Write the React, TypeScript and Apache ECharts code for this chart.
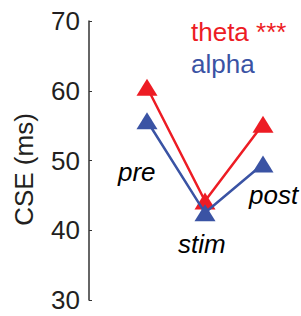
import React, { useEffect, useRef } from "react";
import * as echarts from "echarts";

const conditions = ["pre", "stim", "post"];
const conditionX = [1, 2, 3];
const thetaValues = [60.5, 44.2, 55.2];
const alphaValues = [55.7, 42.5, 49.5];
const yTicks = [30, 40, 50, 60, 70];

const RED = "#ED1C24";
const BLUE = "#3A53A4";
const FONT = "'Liberation Sans', Arial, Helvetica, sans-serif";

export default function App() {
  const ref = useRef<HTMLDivElement>(null);
  useEffect(() => {
    if (!ref.current) return;
    const chart = echarts.init(ref.current, undefined, { renderer: "svg" });
    const mk = (vals: number[]) => conditionX.map((x, i) => [x, vals[i]]);
    const lineSeries = (name: string, vals: number[], color: string) => ({
      name,
      type: "line",
      data: mk(vals),
      symbol: "triangle",
      symbolSize: [21, 17],
      lineStyle: { color, width: 2.5 },
      itemStyle: { color },
      z: name === "alpha" ? 3 : 2,
    });
    chart.setOption({
      animation: false,
      textStyle: { fontFamily: FONT },
      grid: { left: 89, top: 21, bottom: 16, right: 9, containLabel: false },
      xAxis: {
        type: "value",
        min: 0,
        max: 3.5,
        show: false,
      },
      yAxis: {
        type: "value",
        min: yTicks[0],
        max: yTicks[yTicks.length - 1],
        interval: 10,
        name: "CSE (ms)",
        nameLocation: "middle",
        nameRotate: 90,
        nameGap: 52,
        nameTextStyle: {
          fontSize: 26,
          color: "#231F20",
          fontFamily: FONT,
          padding: [0, 18, 0, 0],
        },
        axisLine: { show: true, lineStyle: { color: "#333", width: 1.5 } },
        axisTick: { show: true, inside: true, length: 3, lineStyle: { color: "#333" } },
        axisLabel: { fontSize: 26, color: "#231F20", margin: 9, fontFamily: FONT },
        splitLine: { show: false },
      },
      series: [
        lineSeries("theta", thetaValues, RED),
        lineSeries("alpha", alphaValues, BLUE),
      ],
      graphic: [
        { type: "text", left: 191, top: 19, style: { text: "theta ***", fill: RED, font: `26px ${FONT}` } },
        { type: "text", left: 191, top: 51, style: { text: "alpha", fill: BLUE, font: `26px ${FONT}` } },
        { type: "text", left: 118, top: 159, style: { text: conditions[0], fill: "#000", font: `italic 26px ${FONT}` } },
        { type: "text", left: 178, top: 231, style: { text: conditions[1], fill: "#000", font: `italic 26px ${FONT}` } },
        { type: "text", left: 249, top: 182, style: { text: conditions[2], fill: "#000", font: `italic 26px ${FONT}` } },
      ],
    });
    return () => chart.dispose();
  }, []);
  return (
    <div
      ref={ref}
      style={{ position: "absolute", left: 0, top: 0, width: 301, height: 316 }}
    />
  );
}
